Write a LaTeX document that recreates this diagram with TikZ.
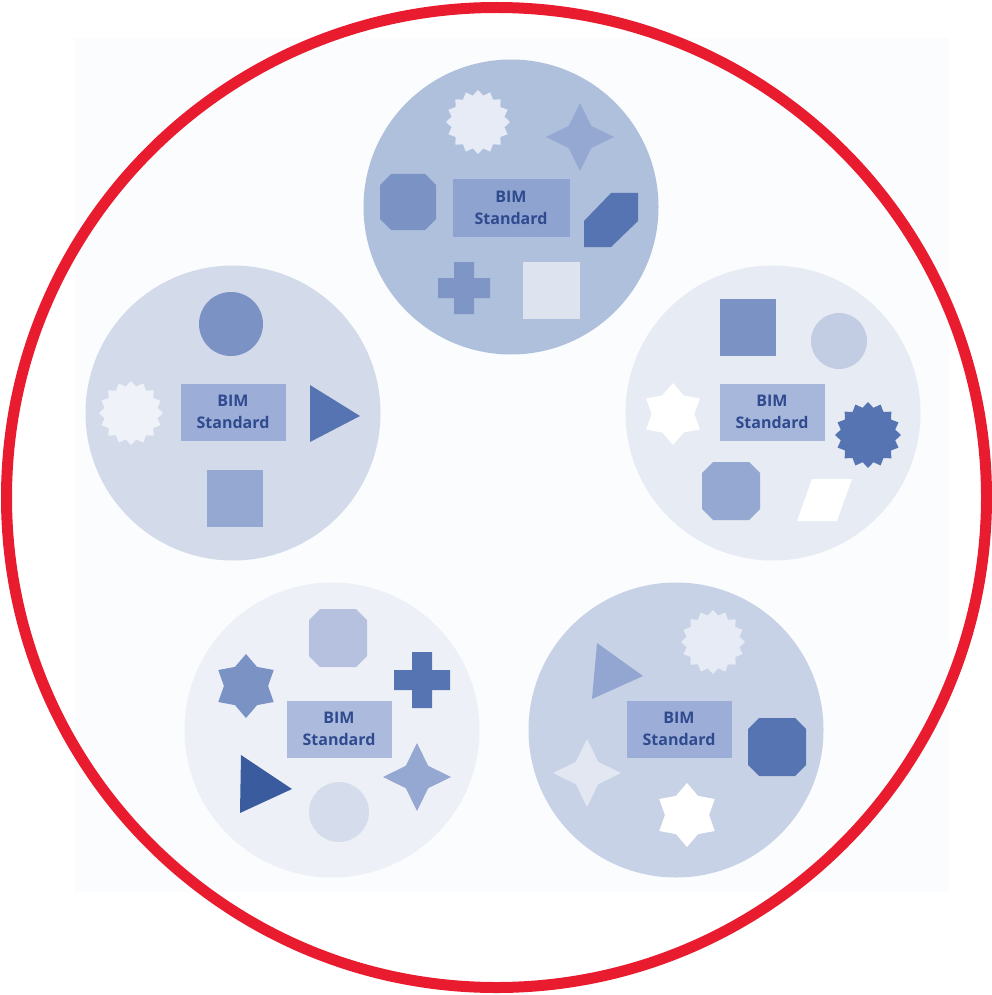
\documentclass[tikz,border=0pt]{standalone}
\usepackage{fontspec}
\setmainfont{Open Sans}
\usetikzlibrary{shapes.geometric,positioning}
\definecolor{ringred}{HTML}{E81C2E}
\definecolor{sheet}{HTML}{FBFCFD}
\definecolor{poolN}{HTML}{AFC0DC}
\definecolor{poolW}{HTML}{D3DBEB}
\definecolor{poolE}{HTML}{E6EBF4}
\definecolor{poolSW}{HTML}{EDF0F7}
\definecolor{poolSE}{HTML}{C8D2E6}
\definecolor{boxblue}{HTML}{9CAED7}
\definecolor{boxdark}{HTML}{8EA3CF}
\definecolor{textblue}{HTML}{2F4A8E}
\definecolor{ink1}{HTML}{3A5C9E}
\definecolor{ink2}{HTML}{5674B2}
\definecolor{ink3}{HTML}{7A92C4}
\definecolor{ink4}{HTML}{95A8D2}
\definecolor{ink5}{HTML}{C2CCE3}
\definecolor{ink6}{HTML}{D5DDEC}
\definecolor{ink7}{HTML}{E6EBF5}
\tikzset{
  pool/.style    = {circle, inner sep=0pt, minimum size=295pt},
  std/.style     = {rectangle, inner sep=0pt, minimum width=105pt,
                    minimum height=57pt, fill=boxblue, text=textblue,
                    align=center, font=\fontsize{16}{22}\selectfont\bfseries},
  burst/.style   = {star, star points=16, star point ratio=1.19, inner sep=0pt},
  hexstar/.style = {star, star points=6, star point ratio=1.45, inner sep=0pt},
  sparkle/.style = {star, star points=4, star point ratio=2.15, inner sep=0pt},
  dot/.style     = {circle, inner sep=0pt},
}
% chamfered square: centre x, centre y, half side, colour
\newcommand{\octa}[4]{%
  \fill[#4, shift={(#1,#2)}] (-#3+11,-#3) -- (#3-11,-#3) -- (#3,-#3+11)
    -- (#3,#3-11) -- (#3-11,#3) -- (-#3+11,#3) -- (-#3,#3-11) -- (-#3,-#3+11) -- cycle;}
% plus sign: centre x, centre y, half size, colour
\newcommand{\plus}[4]{%
  \fill[#4, shift={(#1,#2)}] (-#3,-10) rectangle (#3,10) (-10,-#3) rectangle (10,#3);}

\begin{document}
\begin{tikzpicture}[x=1pt, y=-1pt]
    \useasboundingbox (0,0) rectangle (992,995);
    \fill[sheet] (74,38) rectangle (949,892);

    % the five pools
    \node [pool, fill=poolN]  (poolN)  at (511,207) {};
    \node [pool, fill=poolW]  (poolW)  at (233,413) {};
    \node [pool, fill=poolE]  (poolE)  at (773,413) {};
    \node [pool, fill=poolSW] (poolSW) at (332,730) {};
    \node [pool, fill=poolSE] (poolSE) at (676,730) {};

    % top pool
    \node [burst, fill=ink7, minimum size=64pt] (burstN) at (478,122) {};
    \node [sparkle, fill=ink4, minimum size=68pt] (sparkN) at (580,137) {};
    \octa{408}{202}{28}{ink3}
    \fill[ink2] (611,193) -- (638,193) -- (638,221) -- (611,247) -- (584,247) -- (584,221) -- cycle;
    \plus{464}{288}{26}{ink3!85!ink4}
    \fill[ink6!80!white] (523,262) rectangle (580,319);
    \node [std, fill=boxdark, minimum width=117pt] (stdN) at (511,208) {BIM\\Standard};

    % left pool
    \node [dot, fill=ink3, minimum size=64pt] (dotW) at (231,324) {};
    \node [burst, fill=sheet!70!poolW, minimum size=64pt] (burstW) at (131,413) {};
    \fill[ink2] (310,385) -- (360,416) -- (310,442) -- cycle;
    \fill[ink4] (207,470) rectangle (263,527);
    \node [std] (stdW) at (233,412) {BIM\\Standard};

    % right pool
    \fill[ink3] (720,299) rectangle (776,356);
    \node [dot, fill=ink5, minimum size=56pt] (dotE) at (839,341) {};
    \node [hexstar, fill=white, minimum size=62pt] (starE) at (673,414) {};
    \node [burst, fill=ink2, minimum size=66pt] (burstE) at (868,435) {};
    \octa{731}{491}{29}{ink4}
    \fill[white] (812,479) -- (852,479) -- (837,521) -- (797,521) -- cycle;
    \node [std, fill=boxblue!85!poolE] (stdE) at (772,412) {BIM\\Standard};

    % lower left pool
    \octa{338}{638}{29}{ink5!70!ink4}
    \node [hexstar, fill=ink3, minimum size=64pt] (starSW) at (246,686) {};
    \plus{422}{680}{28}{ink2}
    \fill[ink1] (241,755) -- (292,789) -- (240,813) -- cycle;
    \node [sparkle, fill=ink4, minimum size=68pt] (sparkSW) at (417,777) {};
    \node [dot, fill=ink6, minimum size=60pt] (dotSW) at (339,812) {};
    \node [std, fill=boxblue!80!poolSW] (stdSW) at (339,729) {BIM\\Standard};

    % lower right pool
    \fill[ink4!90!ink3] (597,643) -- (643,676) -- (592,699) -- cycle;
    \node [burst, fill=ink7, minimum size=64pt] (burstSE) at (713,642) {};
    \octa{777}{747}{29}{ink2}
    \node [sparkle, fill=ink6!70!white, minimum size=68pt] (sparkSE) at (587,773) {};
    \node [hexstar, fill=white, minimum size=64pt] (starSE) at (687,815) {};
    \node [std] (stdSE) at (679,729) {BIM\\Standard};

    % red ring
    \draw[ringred, line width=11pt] (496.5,497.5) circle [radius=490];
\end{tikzpicture}
\end{document}
